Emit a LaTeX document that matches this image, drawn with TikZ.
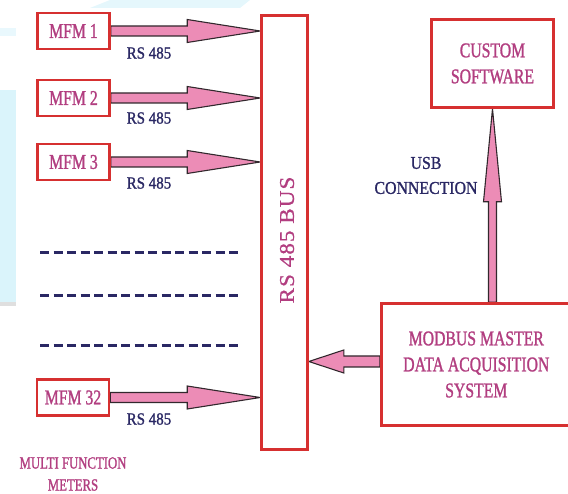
\documentclass[tikz,border=0pt]{standalone}
\usepackage{fontspec}
\setmainfont{Liberation Serif}
\newfontfamily\condfont[FakeStretch=0.75,FakeBold=1.2]{Liberation Serif}
\newfontfamily\navyfont[FakeStretch=0.88,FakeBold=1.2]{Liberation Serif}
\newfontfamily\busfont[FakeStretch=1.1,LetterSpace=5,FakeBold=0.8]{Liberation Serif}
\usetikzlibrary{calc,backgrounds}
\definecolor{boxred}{RGB}{214,48,48}
\definecolor{txtpink}{RGB}{178,62,128}
\definecolor{navy}{RGB}{42,40,100}
\definecolor{arrpink}{RGB}{236,140,182}
\definecolor{arredge}{RGB}{50,40,45}
\definecolor{bgblue}{RGB}{218,244,251}
\tikzset{
  redbox/.style={draw=boxred, line width=2.6pt, fill=white, inner sep=0pt, text=txtpink,
    font=\condfont\fontsize{21}{26}\selectfont, align=center},
  mfm/.style={redbox, minimum width=72pt, minimum height=36pt},
  rslbl/.style={text=navy, font=\navyfont\fontsize{17}{20}\selectfont, inner sep=0pt},
  fatarr/.style={fill=arrpink, draw=arredge, line width=1.1pt, line join=miter},
  dotline/.style={draw=navy, line width=3pt, dash pattern=on 9pt off 4.5pt}
}
\newcommand{\fatarrowh}[2]{%
  \draw[fatarr] ($(#1)+(0,-5)$) -- ($(#2)+(-73,-5)$) -- ($(#2)+(-73,-11.5)$) -- (#2)
    -- ($(#2)+(-73,11.5)$) -- ($(#2)+(-73,5)$) -- ($(#1)+(0,5)$) -- cycle;}
\begin{document}
\begin{tikzpicture}[x=1pt,y=-1pt]
\clip (0,0) rectangle (568,494);
% faint slide background remnants
\fill[bgblue] (0,90) rectangle (16,302);
\fill[gray!25] (0,302) rectangle (16,306);
\fill[bgblue!60] (0,28) rectangle (16,36);
\fill[bgblue!70] (90,8) -- (240,8) -- (250,0) -- (110,0) -- cycle;

% nodes
\node[mfm] (m1) at (73.5,31) {MFM 1};
\node[mfm] (m2) at (73.5,98) {MFM 2};
\node[mfm] (m3) at (73.5,162) {MFM 3};
\node[mfm] (m32) at (73,397.5) {MFM 32};
\node[redbox, minimum width=46pt, minimum height=434pt] (bus) at (284.5,232.5) {};
\node[rotate=90, text=txtpink, font=\busfont\fontsize{21}{24}\selectfont, inner sep=0pt] (bustxt) at (287,240) {RS 485 BUS};
\node[redbox, minimum width=122pt, minimum height=88pt] (cs) at (492.5,63.5) {CUSTOM\\SOFTWARE};
\node[redbox, minimum width=190pt, minimum height=122pt] (mdb) at (476.3,364.5) {MODBUS MASTER\\DATA ACQUISITION\\SYSTEM};

% labels
\node[rslbl] (r1) at (149,53) {RS 485};
\node[rslbl] (r2) at (149,118) {RS 485};
\node[rslbl] (r3) at (149,183) {RS 485};
\node[rslbl] (r32) at (149,419) {RS 485};
\node[rslbl, align=center, font=\navyfont\fontsize{18}{25}\selectfont] (usb) at (426,175.5) {USB\\CONNECTION};
\node[text=txtpink, font=\condfont\fontsize{17}{22}\selectfont, align=center, inner sep=0pt] (mfmlbl) at (73,474) {MULTI FUNCTION\\METERS};

% dashed placeholders
\draw[dotline] (40,253) -- (240,253);
\draw[dotline] (40,296) -- (240,296);
\draw[dotline] (40,346) -- (240,346);

% arrows
\coordinate (t1) at (m1.east -| bus.west);
\coordinate (t2) at (m2.east -| bus.west);
\coordinate (t3) at (m3.east -| bus.west);
\coordinate (t32) at (m32.east -| bus.west);
\coordinate (ms) at ($(mdb.west)+(0,-3)$);
\coordinate (lt) at (ms -| bus.east);
\coordinate (ua) at (cs.south |- mdb.north);
\begin{pgfonlayer}{background}
\fatarrowh{m1.east}{t1}
\fatarrowh{m2.east}{t2}
\fatarrowh{m3.east}{t3}
\fatarrowh{m32.east}{t32}
\draw[fatarr] ($(ms)+(0,-5.5)$) -- ($(lt)+(35,-5.5)$) -- ($(lt)+(35,-11.5)$) -- (lt)
  -- ($(lt)+(35,11.5)$) -- ($(lt)+(35,5.5)$) -- ($(ms)+(0,5.5)$) -- cycle;
\draw[fatarr] ($(ua)+(-4,0)$) -- ($(cs.south)+(-4,93)$) -- ($(cs.south)+(-9,93)$) -- (cs.south)
  -- ($(cs.south)+(9,93)$) -- ($(cs.south)+(4,93)$) -- ($(ua)+(4,0)$) -- cycle;
\end{pgfonlayer}
\end{tikzpicture}
\end{document}
